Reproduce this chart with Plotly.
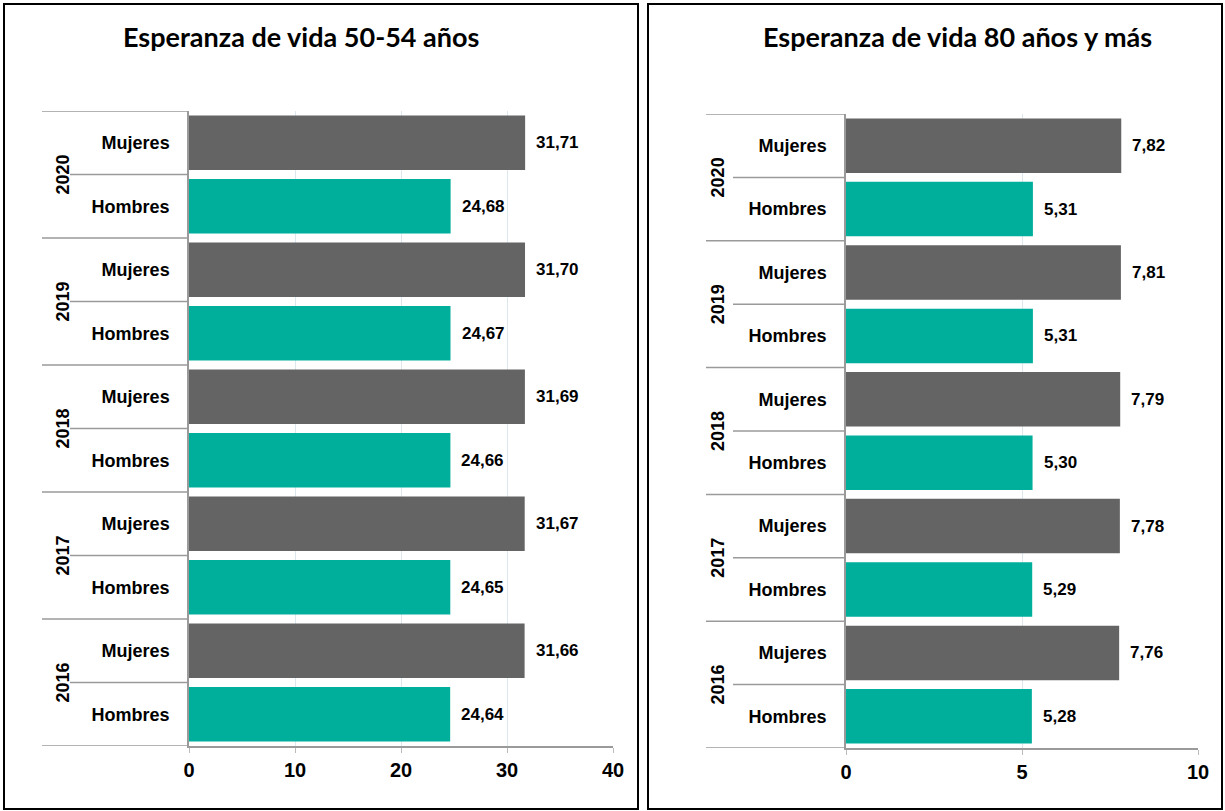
import plotly.graph_objects as go

years = ["2016", "2017", "2018", "2019", "2020"]
sexes = ["Hombres", "Mujeres"]
hombres_50 = [24.64, 24.65, 24.66, 24.67, 24.68]
mujeres_50 = [31.66, 31.67, 31.69, 31.70, 31.71]
hombres_80 = [5.28, 5.29, 5.30, 5.31, 5.31]
mujeres_80 = [7.76, 7.78, 7.79, 7.81, 7.82]
title_50 = "Esperanza de vida 50-54 años"
title_80 = "Esperanza de vida 80 años y más"
ticks_50 = [0, 10, 20, 30, 40]
ticks_80 = [0, 5, 10]

C_M = "#646464"
C_H = "#00AF9B"
W, H = 1225, 811
FONT = "Liberation Sans"

fig = go.Figure()

panels = [
    dict(h=hombres_50, m=mujeres_50, title=title_50, ticks=ticks_50, xa="x", ya="y",
         xdom=[189 / W, 613 / W], ydom=[1 - 746 / H, 1 - 111 / H],
         border=[4, 638], tcx=301, year_x=62, long_x=42, short_x=70),
    dict(h=hombres_80, m=mujeres_80, title=title_80, ticks=ticks_80, xa="x2", ya="y2",
         xdom=[846 / W, 1198 / W], ydom=[1 - 748 / H, 1 - 114 / H],
         border=[648, 1222], tcx=957, year_x=718, long_x=706, short_x=733),
]

shapes = []
annotations = []
for k, p in enumerate(panels):
    ypos_h = [2 * i for i in range(len(years))]
    ypos_m = [2 * i + 1 for i in range(len(years))]
    fig.add_trace(go.Bar(x=p["h"], y=ypos_h, orientation="h", marker_color=C_H,
                         marker_line_width=0,
                         width=0.86, xaxis=p["xa"], yaxis=p["ya"], showlegend=False))
    fig.add_trace(go.Bar(x=p["m"], y=ypos_m, orientation="h", marker_color=C_M,
                         marker_line_width=0,
                         width=0.86, xaxis=p["xa"], yaxis=p["ya"], showlegend=False))
    for vals, ys in ((p["h"], ypos_h), (p["m"], ypos_m)):
        for v, yv in zip(vals, ys):
            annotations.append(dict(x=v, y=yv, xref=p["xa"], yref=p["ya"],
                                    text="<b>" + f"{v:.2f}".replace(".", ",") + "</b>",
                                    showarrow=False, xanchor="left", xshift=9,
                                    font=dict(family=FONT, size=17, color="black")))
    xd0, xd1 = p["xdom"]
    dw = (xd1 - xd0) * W
    lx = (p["long_x"] - xd0 * W) / dw
    sx = (p["short_x"] - xd0 * W) / dw
    dref = p["xa"] + " domain"
    for i, yr in enumerate(years):
        annotations.append(dict(x=p["year_x"] / W, y=2 * i + 0.5, xref="paper", yref=p["ya"],
                                xanchor="center", yanchor="middle",
                                text=f"<b>{yr}</b>", showarrow=False, textangle=-90,
                                font=dict(family=FONT, size=18, color="black")))
        shapes.append(dict(type="line", xref=dref, yref=p["ya"], x0=sx, x1=0,
                           y0=2 * i + 0.5, y1=2 * i + 0.5,
                           line=dict(color="#9a9a9a", width=1.5)))
    for b in range(len(years) + 1):
        shapes.append(dict(type="line", xref=dref, yref=p["ya"], x0=lx, x1=0,
                           y0=2 * b - 0.5, y1=2 * b - 0.5,
                           line=dict(color="#9a9a9a", width=1.5)))
    shapes.append(dict(type="rect", xref="paper", yref="paper",
                       x0=p["border"][0] / W, x1=p["border"][1] / W,
                       y0=1 - 809 / H, y1=1 - 4 / H,
                       line=dict(color="black", width=2)))
    annotations.append(dict(x=p["tcx"] / W, y=1 - 36 / H, xref="paper", yref="paper",
                            xanchor="center", yanchor="middle",
                            text=f"<b>{p['title']}</b>", showarrow=False,
                            font=dict(family="Lato", size=27, color="black")))

    xaxis = dict(domain=p["xdom"], range=[p["ticks"][0], p["ticks"][-1]],
                 tickvals=p["ticks"], ticktext=[f"<b>{t}</b>" for t in p["ticks"]],
                 showgrid=True, gridcolor="#dde7ee", gridwidth=1,
                 showline=True, linecolor="#9a9a9a", linewidth=1.5,
                 ticks="outside", ticklen=5, tickcolor="#bbbbbb",
                 tickfont=dict(family=FONT, size=20, color="black"),
                 zeroline=False, anchor=p["ya"], fixedrange=True, automargin=False)
    yaxis = dict(domain=p["ydom"], range=[-0.5, 2 * len(years) - 0.5],
                 tickvals=list(range(2 * len(years))),
                 ticktext=[f"<b>{sexes[j % 2]}</b>" for j in range(2 * len(years))],
                 showgrid=False, showline=True, linecolor="#9a9a9a", linewidth=1.5,
                 ticks="", ticklabelstandoff=14,
                 tickfont=dict(family=FONT, size=18, color="black"),
                 zeroline=False, anchor=p["xa"], fixedrange=True, automargin=False)
    if k == 0:
        fig.update_layout(xaxis=xaxis, yaxis=yaxis)
    else:
        fig.update_layout(xaxis2=xaxis, yaxis2=yaxis)

fig.update_layout(width=W, height=H, margin=dict(l=0, r=0, t=0, b=0, autoexpand=False),
                  paper_bgcolor="white", plot_bgcolor="white",
                  shapes=shapes, annotations=annotations)
fig.write_html("out.html", config={"displayModeBar": False},
               post_script="document.body.style.margin='0';document.body.style.overflow='hidden';")
